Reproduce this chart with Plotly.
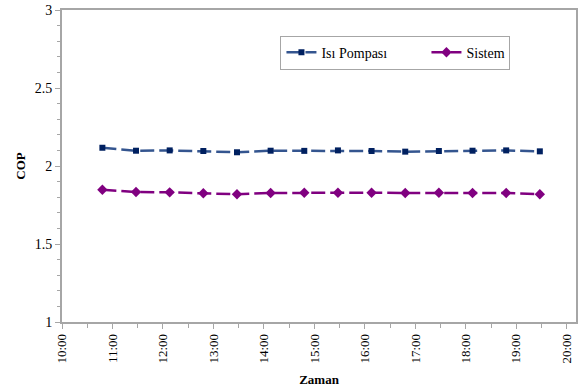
import plotly.graph_objects as go

times = ["10:48", "11:28", "12:08", "12:48", "13:28", "14:08", "14:48",
         "15:28", "16:08", "16:48", "17:28", "18:08", "18:48", "19:28"]
isi_pompasi = [2.117, 2.098, 2.100, 2.096, 2.088, 2.098, 2.097,
               2.100, 2.096, 2.092, 2.096, 2.098, 2.100, 2.094]
sistem = [1.848, 1.833, 1.831, 1.825, 1.819, 1.827, 1.829,
          1.829, 1.829, 1.827, 1.829, 1.827, 1.827, 1.819]
tick_labels = ["10:00", "11:00", "12:00", "13:00", "14:00", "15:00",
               "16:00", "17:00", "18:00", "19:00", "20:00"]

day = "2020-01-01 "
x = [day + t for t in times]
tickvals = [day + t for t in tick_labels]

font = "Liberation Serif"

fig = go.Figure()
fig.add_trace(go.Scatter(
    x=x, y=isi_pompasi, name="Isı Pompası", mode="lines+markers",
    line=dict(color="#34558F", width=2.5, dash="14px,5px"),
    marker=dict(symbol="square", size=6, color="#002060"),
    legendwidth=100,
))
fig.add_trace(go.Scatter(
    x=x, y=sistem, name="Sistem", mode="lines+markers",
    line=dict(color="#800080", width=2.5, dash="14px,5px"),
    marker=dict(symbol="diamond", size=8, color="#800080"),
    legendwidth=38,
))

axis_color = "#A6A6A6"
fig.update_layout(
    width=580, height=389,
    margin=dict(l=62, r=4, t=10, b=67),
    paper_bgcolor="white", plot_bgcolor="white",
    font=dict(family=font, size=14, color="black"),
    showlegend=True,
    legend=dict(
        orientation="h", x=0.425, y=0.918, xanchor="left", yanchor="top",
        bordercolor="#A6A6A6", borderwidth=1, bgcolor="white",
        font=dict(family=font, size=14),
    ),
    xaxis=dict(
        type="date", automargin=False,
        range=[day + "10:00", day + "20:11"],
        tickmode="array", tickvals=tickvals, ticktext=tick_labels,
        tickangle=-90, ticks="outside", ticklen=5, tickcolor=axis_color,
        tickfont=dict(family=font, size=13),
        minor=dict(dtick=1800000, ticks="outside", ticklen=4, tickcolor=axis_color,
                   tick0=day + "10:00"),
        showline=True, linecolor=axis_color, linewidth=1.5, mirror=True,
        showgrid=False, zeroline=False,
        title=dict(text="<b>Zaman</b>", font=dict(family=font, size=13), standoff=12),
    ),
    yaxis=dict(
        automargin=False,
        range=[1, 3], tickmode="array", tickvals=[1, 1.5, 2, 2.5, 3],
        ticktext=["1", "1.5", "2", "2.5", "3"],
        tickfont=dict(family=font, size=14),
        ticks="outside", ticklen=5, tickcolor=axis_color,
        minor=dict(dtick=0.1, ticks="outside", ticklen=3, tickcolor=axis_color),
        showline=True, linecolor=axis_color, linewidth=2, mirror=True,
        showgrid=False, zeroline=False,
        title=dict(text="<b>COP</b>", font=dict(family=font, size=13), standoff=6),
    ),
)

fig.write_html("out.html", config={"displayModeBar": False},
               post_script="document.body.style.margin='0';")
